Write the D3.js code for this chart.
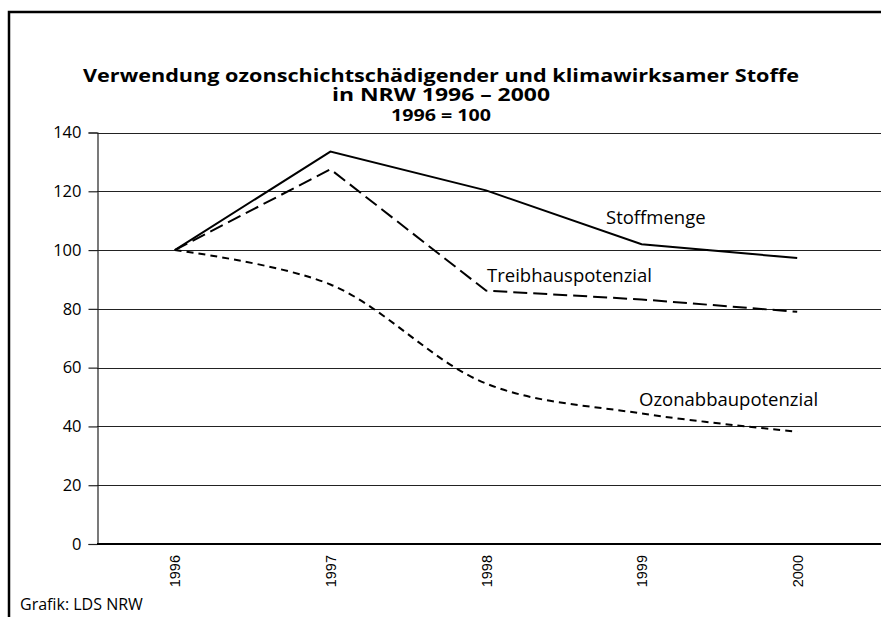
<!DOCTYPE html>
<html>
<head>
<meta charset="utf-8">
<script src="https://cdn.jsdelivr.net/npm/d3@7"></script>
<style>
  body { margin: 0; background: #fff; }
  text { font-family: "Open Sans", "DejaVu Sans", sans-serif; fill: #000; }
</style>
</head>
<body>
<svg id="chart" width="881" height="617"></svg>
<script>
// data (1996 = 100)
var years = ["1996", "1997", "1998", "1999", "2000"];
var stoffmenge = [100, 133.5, 120.3, 102, 97.3];
var treibhaus = [100, 127.5, 86.2, 83.2, 79];
var ozonabbau = [100, 88.3, 54.6, 44.4, 38.2];
var yTicks = [0, 20, 40, 60, 80, 100, 120, 140];

var svg = d3.select("#chart");

var x = d3.scalePoint()
	.domain(years)
	.range([97, 875])
	.padding(0.5);

var y = d3.scaleLinear()
	.domain([0, 140])
	.range([544, 132.5]);

// frame round the chart
svg.append("path")
	.attr("d", "M9,617 V12 H881")
	.attr("fill", "none")
	.attr("stroke", "#000")
	.attr("stroke-width", 2.5);

// title, stretched a little to the width of the original lettering
var titles = [
	{ text: "Verwendung ozonschichtschädigender und klimawirksamer Stoffe", y: 82, size: 18.5, len: 716 },
	{ text: "in NRW 1996 – 2000", y: 101, size: 18.5, len: 218 },
	{ text: "1996 = 100", y: 121, size: 16, len: 100 }
];
svg.append("g")
	.selectAll("text")
	.data(titles)
	.join("text")
	.attr("x", function(d) { return 441 - d.len / 2; })
	.attr("y", function(d) { return d.y; })
	.attr("textLength", function(d) { return d.len; })
	.attr("lengthAdjust", "spacingAndGlyphs")
	.style("font-size", function(d) { return d.size + "px"; })
	.style("font-weight", "bold")
	.text(function(d) { return d.text; });

// horizontal gridlines
svg.append("g")
	.selectAll("line")
	.data(yTicks.filter(function(d) { return d > 0; }))
	.join("line")
	.attr("x1", 97).attr("x2", 881)
	.attr("y1", function(d) { return Math.round(y(d)) + 0.5; })
	.attr("y2", function(d) { return Math.round(y(d)) + 0.5; })
	.attr("stroke", "#222")
	.attr("stroke-width", 1.2);

// y axis
var yAxis = svg.append("g")
	.attr("transform", "translate(97.5,0)")
	.call(d3.axisLeft(y).tickValues(yTicks).tickSize(9).tickPadding(7));
yAxis.select(".domain").attr("stroke", "#222").attr("stroke-width", 1.2);
yAxis.selectAll(".tick line").attr("stroke", "#222").attr("stroke-width", 1.2);
yAxis.selectAll("text")
	.style("font-size", "16.5px")
	.style("font-family", "'Open Sans', sans-serif")
	.attr("fill", "#000");

// x axis (no ticks, only rotated labels)
var xAxis = svg.append("g")
	.attr("transform", "translate(0,544)")
	.call(d3.axisBottom(x).tickSize(0).tickPadding(0));
xAxis.select(".domain").remove();
xAxis.append("line")
	.attr("x1", 97).attr("x2", 881)
	.attr("stroke", "#000").attr("stroke-width", 2);
xAxis.selectAll(".tick text")
	.attr("transform", "rotate(-90)")
	.attr("text-anchor", "end")
	.attr("x", -11).attr("y", 0).attr("dy", "0.35em")
	.style("font-size", "14.5px")
	.style("font-family", "'Liberation Sans', Arial, sans-serif")
	.attr("fill", "#000");

// lines
var straight = d3.line()
	.x(function(d, i) { return x(years[i]); })
	.y(function(d) { return y(d); });
var smooth = d3.line()
	.x(function(d, i) { return x(years[i]); })
	.y(function(d) { return y(d); })
	.curve(d3.curveCatmullRom);

svg.append("path")
	.datum(stoffmenge)
	.attr("d", straight)
	.attr("fill", "none").attr("stroke", "#000").attr("stroke-width", 2);

svg.append("path")
	.datum(treibhaus)
	.attr("d", straight)
	.attr("fill", "none").attr("stroke", "#000").attr("stroke-width", 2)
	.attr("stroke-dasharray", "14,6");

svg.append("path")
	.datum(ozonabbau)
	.attr("d", smooth)
	.attr("fill", "none").attr("stroke", "#000").attr("stroke-width", 2)
	.attr("stroke-dasharray", "7,5");

// line labels
var labels = [
	{ text: "Stoffmenge", x: 606, y: 224 },
	{ text: "Treibhauspotenzial", x: 487, y: 282 },
	{ text: "Ozonabbaupotenzial", x: 639, y: 406 }
];
svg.append("g")
	.selectAll("text")
	.data(labels)
	.join("text")
	.attr("x", function(d) { return d.x; })
	.attr("y", function(d) { return d.y; })
	.style("font-size", "18.5px")
	.text(function(d) { return d.text; });

// source
svg.append("text")
	.attr("x", 20).attr("y", 610)
	.style("font-size", "16px")
	.text("Grafik: LDS NRW");
</script>
</body>
</html>
